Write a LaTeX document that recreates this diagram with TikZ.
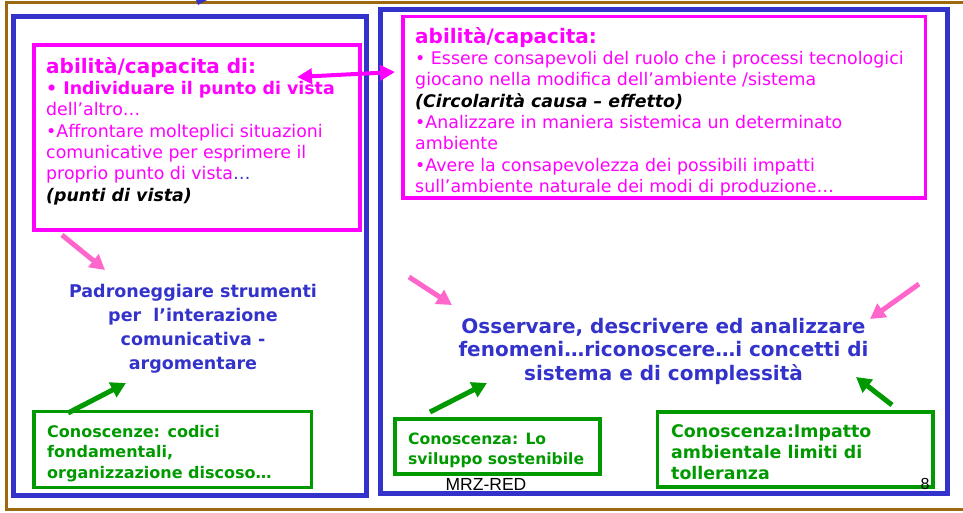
\documentclass[tikz,border=0pt]{standalone}
\usepackage{fontspec}
\setmainfont{DejaVu Sans}
\newfontfamily\footfont{Liberation Sans}
\usetikzlibrary{arrows.meta}
\definecolor{slideblue}{RGB}{51,51,204}
\definecolor{slidemag}{RGB}{255,0,255}
\definecolor{slidegreen}{RGB}{0,153,0}
\definecolor{slidepink}{RGB}{255,102,204}
\definecolor{slidebrown}{RGB}{156,104,16}

\begin{document}
\begin{tikzpicture}[x=1pt,y=-1pt,
  panel/.style={draw=slideblue,line width=5pt,inner sep=0pt},
  abilbox/.style={draw=slidemag,line width=3.5pt,inner sep=0pt},
  conbox/.style={draw=slidegreen,line width=3.5pt,inner sep=0pt},
  abiltext/.style={anchor=north west,inner sep=0pt,align=left,text=slidemag,font=\fontsize{17.4}{21.3}\selectfont},
  goaltext/.style={inner sep=0pt,align=center,text=slideblue},
  context/.style={anchor=north west,inner sep=0pt,align=left,text=slidegreen},
  pinkarrow/.style={draw=slidepink,line width=5pt,-{Triangle[length=15pt,width=16pt]}},
  greenarrow/.style={draw=slidegreen,line width=5pt,-{Triangle[length=15pt,width=16pt]}},
  linkarrow/.style={draw=slidemag,line width=4pt,{Triangle[length=15pt,width=15pt]}-{Triangle[length=15pt,width=15pt]}}]
\useasboundingbox (0,0) rectangle (963,512);

\draw[slidebrown,line width=3pt] (963,2.5) -- (6,2.5) -- (6,509.5) -- (963,509.5);
\fill[slideblue] (196,0) -- (207,0) -- (198,5) -- cycle;

\node[panel,minimum width=353,minimum height=479] (panelL) at (190,256) {};
\node[panel,minimum width=567,minimum height=484] (panelR) at (663.5,251.5) {};

\node[abilbox,minimum width=326,minimum height=185] (abilL) at (197,137.5) {};
\node[abilbox,minimum width=522.5,minimum height=181.5] (abilR) at (664.25,107.25) {};

\node[abiltext] (abilLtxt) at (46,57) {{\fontsize{20}{21.3}\selectfont\bfseries abilità/capacita di:}\\
\textbf{• Individuare il punto di vista}\\
dell’altro…\\
•Affrontare molteplici situazioni\\
comunicative per esprimere il\\
proprio punto di vista{\color{slideblue}…}\\
{\color{black}\bfseries\itshape (punti di vista)}};

\node[abiltext] (abilRtxt) at (415,27) {{\fontsize{20}{21.3}\selectfont\bfseries abilità/capacita:}\\
• Essere consapevoli del ruolo che i processi tecnologici\\
giocano nella modifica dell’ambiente /sistema\\
{\color{black}\bfseries\itshape (Circolarità causa – effetto)}\\
•Analizzare in maniera sistemica un determinato\\
ambiente\\
•Avere la consapevolezza dei possibili impatti\\
sull’ambiente naturale dei modi di produzione…};

\node[goaltext,font=\fontsize{17.5}{24}\selectfont\bfseries] (goalL) at (193,328.5) {Padroneggiare strumenti\\per\ \ l’interazione\\comunicativa -\\argomentare};
\node[goaltext,font=\fontsize{20}{23.5}\selectfont\bfseries] (goalR) at (663.5,351) {Osservare, descrivere ed analizzare\\fenomeni…riconoscere…i concetti di\\sistema e di complessità};

\node[conbox,minimum width=277.5,minimum height=76] (conL) at (172.75,449.5) {};
\node[conbox,minimum width=205,minimum height=55] (conM) at (497.5,446.5) {};
\node[conbox,minimum width=275.5,minimum height=75] (conR) at (795.25,449.5) {};

\node[context,font=\fontsize{16}{20.5}\selectfont\bfseries] (conLtxt) at (47,425) {Conoscenze: codici\\fondamentali,\\organizzazione discoso…};
\node[context,font=\fontsize{15.6}{19.5}\selectfont\bfseries] (conMtxt) at (408,433) {Conoscenza: Lo\\sviluppo sostenibile};
\node[context,font=\fontsize{17.4}{21}\selectfont\bfseries] (conRtxt) at (671,424) {Conoscenza:Impatto\\ambientale limiti di\\tolleranza};

\node[anchor=base,inner sep=0pt,font=\footfont\fontsize{17.5}{20}\selectfont] (footer) at (486,490) {MRZ-RED};
\node[anchor=base,inner sep=0pt,font=\footfont\fontsize{16}{20}\selectfont] (pagenum) at (925,489) {8};

\coordinate (linkL) at (297,77);
\coordinate (linkR) at (395,72);
\coordinate (pinkLa) at (62,235);
\coordinate (pinkLb) at (105,270);
\coordinate (pinkMa) at (409,277);
\coordinate (pinkMb) at (452,305);
\coordinate (pinkRa) at (919,284);
\coordinate (pinkRb) at (870,319);
\coordinate (greenLa) at (68,413);
\coordinate (greenLb) at (126,383);
\coordinate (greenMa) at (430,412);
\coordinate (greenMb) at (487,383);
\coordinate (greenRa) at (892,405);
\coordinate (greenRb) at (856,377);

\draw[linkarrow] (linkL) -- (linkR);
\draw[pinkarrow] (pinkLa) -- (pinkLb);
\draw[pinkarrow] (pinkMa) -- (pinkMb);
\draw[pinkarrow] (pinkRa) -- (pinkRb);
\draw[greenarrow] (greenLa) -- (greenLb);
\draw[greenarrow] (greenMa) -- (greenMb);
\draw[greenarrow] (greenRa) -- (greenRb);
\end{tikzpicture}
\end{document}
